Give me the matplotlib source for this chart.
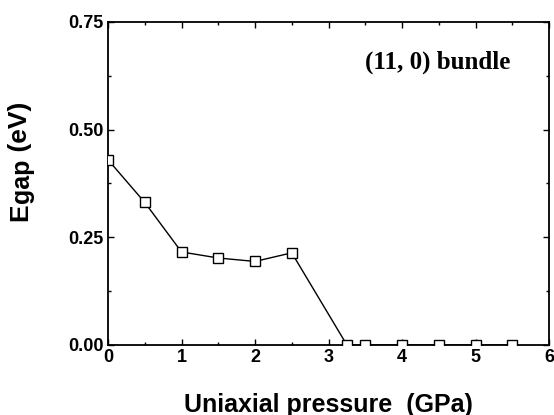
import matplotlib
matplotlib.use("Agg")
import matplotlib.pyplot as plt
from matplotlib.ticker import MultipleLocator

# Data
pressure = [0.0, 0.5, 1.0, 1.5, 2.0, 2.5, 3.25, 3.5, 4.0, 4.5, 5.0, 5.5]
egap = [0.43, 0.331, 0.216, 0.202, 0.194, 0.214, 0.0, 0.0, 0.0, 0.0, 0.0, 0.0]
xticks = [0, 1, 2, 3, 4, 5, 6]
yticks = [0.00, 0.25, 0.50, 0.75]

plt.rcParams['font.family'] = ['Liberation Sans', 'DejaVu Sans']

W, H = 554, 415
fig = plt.figure(figsize=(W / 100, H / 100), dpi=100)
ax = fig.add_axes([0.195, 0.1687, 0.796, 0.7783])

ax.plot(pressure, egap, color='black', linewidth=1.0, marker='s', markersize=7.2,
        markerfacecolor='white', markeredgecolor='black', markeredgewidth=1.0,
        clip_on=True, zorder=3)

ax.set_xlim(0, 6)
ax.set_ylim(0, 0.75)
ax.set_xticks(xticks)
ax.set_yticks(yticks)
ax.set_yticklabels([f'{v:.2f}' for v in yticks])
ax.xaxis.set_minor_locator(MultipleLocator(0.5))
ax.yaxis.set_minor_locator(MultipleLocator(0.125))

ax.tick_params(which='both', direction='in', top=True, right=True, width=1.0)
ax.tick_params(which='major', length=4, labelsize=13, pad=3)
ax.tick_params(which='minor', length=2.5)
for lab in ax.get_xticklabels() + ax.get_yticklabels():
    lab.set_fontweight('bold')
for sp in ax.spines.values():
    sp.set_linewidth(1.3)

ax.set_xlabel('Uniaxial pressure  (GPa)', fontsize=18, fontweight='bold', labelpad=19)

# y label: "E" with a lowered "gap" at nearly full size, as in the reference
e_txt = fig.text(27 / W, 1 - 221 / H, 'E', rotation=90, rotation_mode='anchor',
                 ha='left', va='baseline', fontsize=19, fontweight='bold')
fig.canvas.draw()
bb = e_txt.get_window_extent()
fig.text(29 / W, bb.y1 / H, 'gap', rotation=90, rotation_mode='anchor',
         ha='left', va='baseline', fontsize=18, fontweight='bold')
fig.canvas.draw()
g_bb = fig.texts[-1].get_window_extent()
fig.text(27 / W, g_bb.y1 / H, ' (eV)', rotation=90, rotation_mode='anchor',
         ha='left', va='baseline', fontsize=19, fontweight='bold')

ax.text(0.747, 0.876, '(11, 0) bundle', transform=ax.transAxes, ha='center', va='center',
        fontsize=18, fontweight='bold', family='Liberation Serif')

fig.savefig('out.png', dpi=100)
